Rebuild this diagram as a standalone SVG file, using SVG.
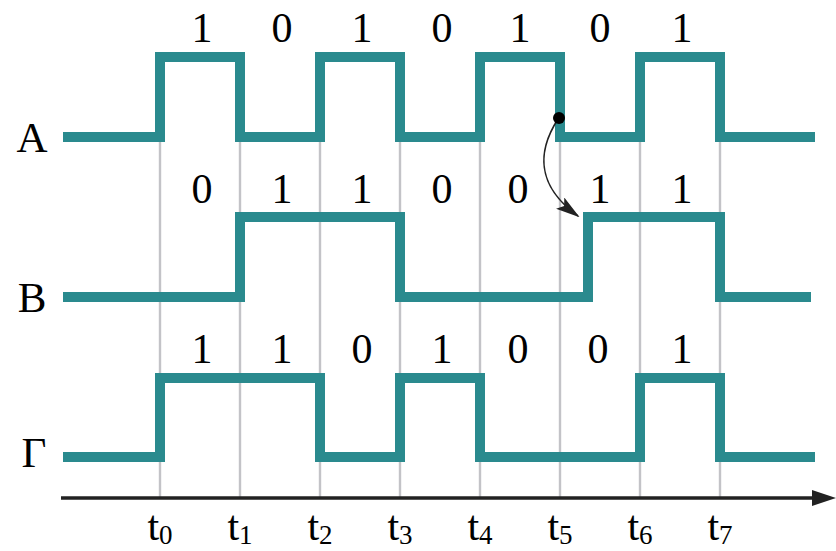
<svg xmlns="http://www.w3.org/2000/svg" width="836" height="551" viewBox="0 0 836 551">
<style>
.grid{stroke:#c3c3c7;stroke-width:2.4;fill:none}
.sig{stroke:#2a8a8e;stroke-width:10;fill:none;stroke-linejoin:miter;stroke-linecap:butt}
.lbl{font-family:"Liberation Serif","Times New Roman",serif;font-size:43px;fill:#000;text-anchor:middle}
.bit{font-family:"Liberation Serif","Times New Roman",serif;font-size:42px;fill:#000;text-anchor:middle}
.tl{font-family:"Liberation Serif","Times New Roman",serif;font-size:42px;fill:#000;text-anchor:middle}
.sub{font-size:27px}
</style>
<defs>
<marker id="ah2" markerWidth="24" markerHeight="14" refX="22" refY="7" orient="auto" markerUnits="userSpaceOnUse">
<path d="M0,0 L24,7 L0,14 L5,7 z" fill="#222"/>
</marker>
</defs>
<rect width="836" height="551" fill="#fff"/>
<g id="grid">
<line class="grid" x1="160" y1="137" x2="160" y2="497"/>
<line class="grid" x1="240" y1="137" x2="240" y2="497"/>
<line class="grid" x1="320" y1="137" x2="320" y2="497"/>
<line class="grid" x1="400" y1="137" x2="400" y2="497"/>
<line class="grid" x1="480" y1="137" x2="480" y2="497"/>
<line class="grid" x1="560" y1="137" x2="560" y2="497"/>
<line class="grid" x1="640" y1="137" x2="640" y2="497"/>
<line class="grid" x1="720" y1="137" x2="720" y2="497"/>
</g>
<g id="axis">
<line x1="61" y1="498" x2="818" y2="498" stroke="#222" stroke-width="3.5"/>
<path d="M812,490 L836,498 L812,506 z" fill="#222"/>
<text class="tl" x="160" y="540">t<tspan class="sub" dy="4">0</tspan></text>
<text class="tl" x="240" y="540">t<tspan class="sub" dy="4">1</tspan></text>
<text class="tl" x="320" y="540">t<tspan class="sub" dy="4">2</tspan></text>
<text class="tl" x="400" y="540">t<tspan class="sub" dy="4">3</tspan></text>
<text class="tl" x="480" y="540">t<tspan class="sub" dy="4">4</tspan></text>
<text class="tl" x="560" y="540">t<tspan class="sub" dy="4">5</tspan></text>
<text class="tl" x="640" y="540">t<tspan class="sub" dy="4">6</tspan></text>
<text class="tl" x="720" y="540">t<tspan class="sub" dy="4">7</tspan></text>
</g>
<g id="signal-A">
<text class="lbl" x="32" y="152">A</text>
<path class="sig" d="M63,137 H160 V57 H240 V137 H320 V57 H400 V137 H480 V57 H560 V137 H640 V57 H720 V137 H815"/>
<text class="bit" x="202" y="42">1</text>
<text class="bit" x="282" y="42">0</text>
<text class="bit" x="362" y="42">1</text>
<text class="bit" x="442" y="42">0</text>
<text class="bit" x="520" y="42">1</text>
<text class="bit" x="600" y="42">0</text>
<text class="bit" x="682" y="42">1</text>
</g>
<g id="signal-B">
<text class="lbl" x="32" y="312">B</text>
<path class="sig" d="M63,297 H240 V217 H400 V297 H588 V217 H720 V297 H811"/>
<text class="bit" x="202" y="203">0</text>
<text class="bit" x="282" y="203">1</text>
<text class="bit" x="362" y="203">1</text>
<text class="bit" x="442" y="203">0</text>
<text class="bit" x="518" y="203">0</text>
<text class="bit" x="600" y="203">1</text>
<text class="bit" x="682" y="203">1</text>
</g>
<g id="signal-G">
<text class="lbl" x="34" y="467">Γ</text>
<path class="sig" d="M63,457 H160 V378 H320 V457 H400 V378 H480 V457 H640 V378 H720 V457 H815"/>
<text class="bit" x="202" y="363">1</text>
<text class="bit" x="282" y="363">1</text>
<text class="bit" x="362" y="363">0</text>
<text class="bit" x="442" y="363">1</text>
<text class="bit" x="518" y="363">0</text>
<text class="bit" x="598" y="363">0</text>
<text class="bit" x="682" y="363">1</text>
</g>
<g id="connectors">
<path d="M558,119 C538,150 535,185 578,216" fill="none" stroke="#222" stroke-width="1.6" marker-end="url(#ah2)"/>
<circle cx="559" cy="118" r="6" fill="#000"/>
</g>
</svg>
